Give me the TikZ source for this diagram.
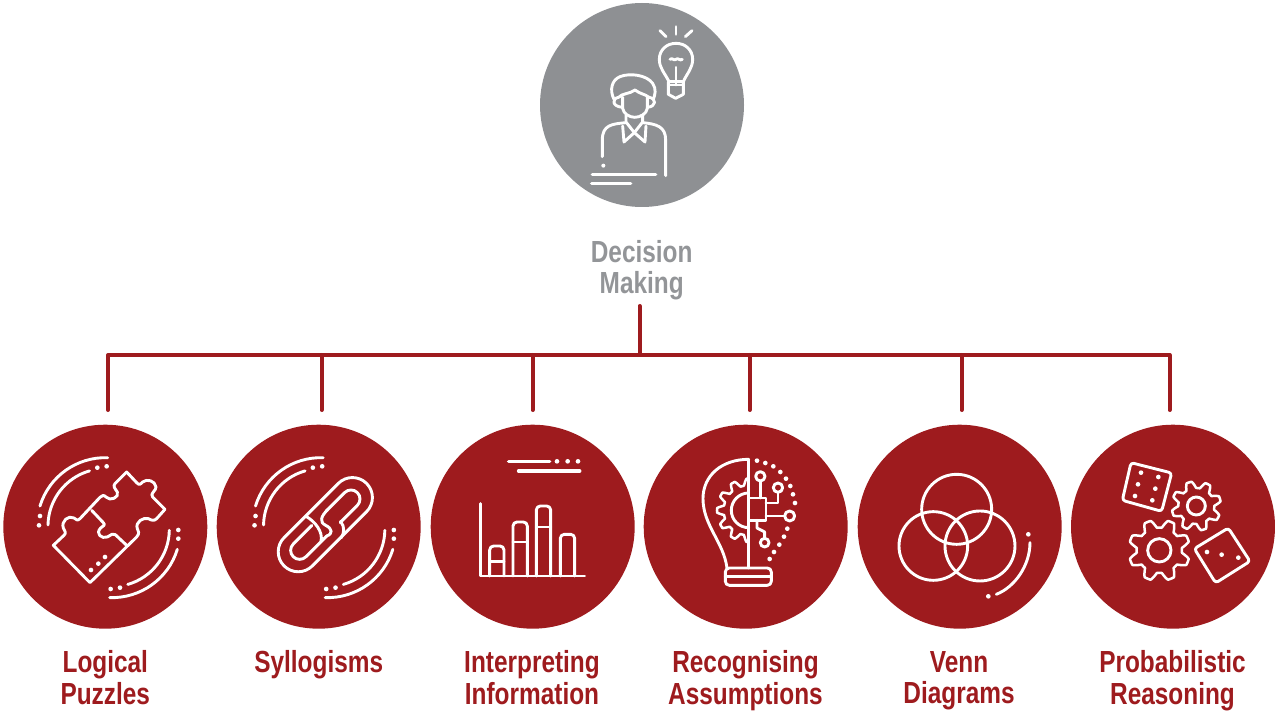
\documentclass[tikz,border=0pt]{standalone}
\usepackage{fontspec}
\setmainfont[FakeStretch=0.8]{Liberation Sans}
\definecolor{dred}{HTML}{9E1B1E}
\definecolor{dgray}{HTML}{8E9093}
\definecolor{lgray}{HTML}{939598}
\newcommand{\st}{\rule{0pt}{22pt}\rule[-8pt]{0pt}{8pt}}
\tikzset{
  disc/.style={circle,minimum size=204pt,inner sep=0pt,outer sep=0pt,draw=none},
  lab/.style={font=\fontsize{30.5}{31.7}\selectfont\bfseries,align=center,inner sep=0pt,text=dred,anchor=north},
  conn/.style={draw=dred,line width=4pt,line cap=round,line join=round},
  ico/.style={draw=white,line width=2.9pt,line cap=round,line join=round,fill=none},
  thin ico/.style={ico,line width=2.5pt},
  dotw/.style={fill=white,draw=none}
}
\newcommand{\wdots}[1]{\foreach \p in {#1}{\fill[dotw] \p circle[radius=7];}}
\newcommand{\gearcirc}[6]{% cx cy rootR tipR n rot
  \draw[thin ico,variable=\t,samples=361,domain=0:360] plot ({#1+((#3+#4)/2+(#4-#3)/2*max(-1,min(1,1.5*cos(#5*(\t-#6)))))*cos(\t)},{#2+((#3+#4)/2+(#4-#3)/2*max(-1,min(1,1.5*cos(#5*(\t-#6)))))*sin(\t)}) -- cycle;}
\newcommand{\swoosh}{%
  \draw[ico] (316,312) ++(-88:205) arc[start angle=-88,end angle=-163,radius=205];
  \draw[ico] (316,312) ++(-106:172) arc[start angle=-106,end angle=-179,radius=172];
  \draw[ico] (336,322) ++(92:205) arc[start angle=92,end angle=17,radius=205];
  \draw[ico] (336,322) ++(74:172) arc[start angle=74,end angle=1,radius=172];
  \wdots{(292,137),(320,133),(120,282),(117,310),(360,497),(332,501),(535,350),(535,324)}
}
\begin{document}
\begin{tikzpicture}[x=1pt,y=-1pt]
\useasboundingbox (0,0) rectangle (1275,711);
% discs
\node[disc,fill=dgray] (top) at (642,105) {};
\node[disc,fill=dred] (c1) at (105.3,526.7) {};
\node[disc,fill=dred] (c2) at (318.7,526.7) {};
\node[disc,fill=dred] (c3) at (532.7,526.7) {};
\node[disc,fill=dred] (c4) at (745.7,526.7) {};
\node[disc,fill=dred] (c5) at (959.7,526.7) {};
\node[disc,fill=dred] (c6) at (1173,526.7) {};
% labels
\node[lab,text=lgray] (ltop) at (641.7,240) {\st Decision\\\st Making};
\node[lab] (l1) at (105.3,650) {\st Logical\\\st Puzzles};
\node[lab] (l2) at (318.7,650) {\st Syllogisms};
\node[lab] (l3) at (532,650) {\st Interpreting\\\st Information};
\node[lab] (l4) at (745.5,650) {\st Recognising\\\st Assumptions};
\node[lab] (l5) at (959,650) {\st Venn\\\st Diagrams};
\node[lab] (l6) at (1172.5,650) {\st Probabilistic\\\st Reasoning};
% connectors
\coordinate (stem) at (639.5,306);
\coordinate (hub) at (639.5,355);
\coordinate (d1) at (108,355); \coordinate (e1) at (108,410);
\coordinate (d2) at (321.5,355); \coordinate (e2) at (321.5,410);
\coordinate (d3) at (532.5,355); \coordinate (e3) at (532.5,410);
\coordinate (d4) at (749.5,355); \coordinate (e4) at (749.5,410);
\coordinate (d5) at (961.5,355); \coordinate (e5) at (961.5,410);
\coordinate (d6) at (1169.5,355); \coordinate (e6) at (1169.5,410);
\draw[conn] (stem) -- (hub);
\draw[conn] (e1) -- (d1) -- (d6) -- (e6);
\draw[conn] (d2) -- (e2);
\draw[conn] (d3) -- (e3);
\draw[conn] (d4) -- (e4);
\draw[conn] (d5) -- (e5);
% person + bulb
\begin{scope}[shift={(540,0)},x=.3333pt,y=-.3333pt]
  \draw[ico] (222,298) .. controls (208,270) and (215,240) .. (240,230) .. controls (270,218) and (320,225) .. (338,250) .. controls (350,268) and (345,285) .. (340,298);
  \draw[ico] (236,292) .. controls (245,280) and (270,282) .. (285,270) .. controls (300,282) and (315,282) .. (327,292);
  \draw[ico] (248,292) -- (248,325) .. controls (250,342) and (270,352) .. (284,352) .. controls (300,352) and (320,342) .. (322,325) -- (322,292);
  \draw[ico] (236,292) .. controls (215,295) and (215,320) .. (248,322);
  \draw[ico] (327,292) .. controls (350,295) and (350,320) .. (322,322);
  \draw[ico] (258,345) -- (258,366) -- (283,398) -- (308,366) -- (308,345);
  \draw[ico] (248,378) -- (252,426) -- (283,398) -- (315,426) -- (318,378);
  \draw[ico] (258,368) .. controls (215,372) and (187,375) .. (187,420) -- (187,470);
  \draw[ico] (308,368) .. controls (350,372) and (377,380) .. (377,420) -- (377,527);
  \fill[dotw] (190,497) circle[radius=6];
  \draw[ico,line width=3.4pt] (157,523) -- (347,523);
  \draw[ico,line width=3.4pt] (155,550) -- (272,550);
  \draw[ico] (387,245) .. controls (375,220) and (358,205) .. (358,178) .. controls (358,150) and (380,130) .. (408,130) .. controls (436,130) and (458,150) .. (458,178) .. controls (458,205) and (441,220) .. (430,245);
  \draw[ico] (385,245) -- (385,283) -- (407,295) -- (430,283) -- (430,245) -- cycle;
  \draw[ico] (385,255) -- (430,255);
  \draw[ico] (408,202) -- (408,255);
  \draw[ico] (390,178) .. controls (398,172) and (402,184) .. (408,178) .. controls (414,172) and (420,184) .. (427,178);
  \draw[ico] (408,80) -- (408,103);
  \draw[ico] (360,92) -- (378,110);
  \draw[ico] (456,92) -- (436,110);
\end{scope}
% puzzle
\begin{scope}[shift={(0,422)},x=.3333pt,y=-.3333pt]
  \swoosh
  \draw[ico] (160,370) -- (270,482) -- (410,345) .. controls (420,335) and (415,325) .. (412,320) .. controls (405,300) and (430,285) .. (445,290) .. controls (455,295) and (462,298) .. (470,290) -- (495,262) -- (458,225) .. controls (448,215) and (470,205) .. (468,195) .. controls (465,175) and (440,170) .. (428,180) .. controls (420,188) and (418,190) .. (410,182) -- (380,150) -- (345,185) .. controls (338,192) and (345,200) .. (352,210) .. controls (360,225) and (330,240) .. (318,225) .. controls (312,218) and (305,220) .. (300,226) -- (240,290) .. controls (232,298) and (228,292) .. (222,288) .. controls (205,278) and (183,298) .. (190,318) .. controls (195,330) and (200,332) .. (192,340) -- cycle;
  \draw[ico] (275,265) -- (310,302) .. controls (318,310) and (308,312) .. (302,318) .. controls (285,335) and (305,352) .. (322,345) .. controls (335,338) and (340,332) .. (346,338) -- (380,370);
  \wdots{(273,444),(295,425),(315,405)}
\end{scope}
% chain
\begin{scope}[shift={(215,422)},x=.3333pt,y=-.3333pt]
  \begin{scope}[shift={(1.6,0)}]\swoosh\end{scope}
  \begin{scope}[shift={(331,308)},rotate=45]
    \draw[ico,rounded corners=20pt] (-175,-60) rectangle (175,60);
    \draw[ico,rounded corners=9pt] (30,-27) -- (136,-27) -- (136,27) -- (36,27);
    \draw[ico,rounded corners=9pt] (-30,-27) -- (-136,-27) -- (-136,27) -- (-22,27);
  \end{scope}
  \draw[ico] (338,263) .. controls (318,283) and (312,300) .. (332,310) .. controls (352,320) and (355,335) .. (335,342);
  \draw[ico] (273,283) .. controls (300,298) and (325,330) .. (318,358);
  \draw[ico] (377,298) .. controls (390,315) and (388,335) .. (378,348);
\end{scope}
% chart
\begin{scope}[shift={(428,422)},x=.3333pt,y=-.3333pt]
  \draw[ico] (158,245) -- (158,462) -- (470,462);
  \draw[ico,rounded corners=4pt] (185,462) -- (185,372) -- (228,372) -- (228,462);
  \draw[ico] (185,418) -- (228,418);
  \draw[ico,rounded corners=4pt] (255,462) -- (255,300) -- (298,300) -- (298,462);
  \draw[ico] (255,360) -- (298,360);
  \draw[ico,rounded corners=4pt] (325,462) -- (325,252) -- (368,252) -- (368,462);
  \draw[ico] (325,315) -- (368,315);
  \draw[ico,rounded corners=4pt] (397,462) -- (397,337) -- (440,337) -- (440,462);
  \draw[ico,line width=3.6pt] (242,118) -- (365,118);
  \draw[ico,line width=3.6pt] (272,147) -- (455,147);
  \wdots{(387,118),(419,118),(450,118)}
\end{scope}
% bulb
\begin{scope}[shift={(642,422)},x=.3333pt,y=-.3333pt]
  \draw[ico] (320,112) .. controls (240,112) and (183,160) .. (183,230) .. controls (183,310) and (245,360) .. (255,438);
  \draw[ico] (320,112) -- (320,438);
  \draw[ico,rounded corners=4pt] (250,438) rectangle (388,490);
  \draw[ico] (250,464) -- (388,464);
  \draw[ico] (320,213) arc[start angle=-90,end angle=-270,radius=52];
  \draw[thin ico,variable=\t,samples=181,domain=90:270] plot ({320+(85+10*max(-1,min(1,1.5*cos(12*\t))))*cos(\t)},{265+(85+10*max(-1,min(1,1.5*cos(12*\t))))*sin(\t)});
  \draw[ico] (320,228) rectangle (372,295);
  \draw[ico] (355,163) circle[radius=14];
  \draw[ico] (355,177) -- (355,228);
  \draw[ico] (408,197) circle[radius=14];
  \draw[ico] (408,211) -- (408,243) -- (372,243);
  \draw[ico] (443,282) circle[radius=15];
  \draw[ico] (428,282) -- (372,282);
  \draw[ico] (368,362) circle[radius=13];
  \draw[ico] (368,349) -- (368,330) -- (345,318) -- (345,295);
  \wdots{(345,116),(370,123),(394,133),(415,150),(432,170),(445,192),(453,217),(459,243),(436,320),(426,344),(412,368),(396,390),(383,411)}
\end{scope}
% venn
\begin{scope}[shift={(855,422)},x=.3333pt,y=-.3333pt]
  \draw[ico] (305,262) circle[radius=105];
  \draw[ico] (235,372) circle[radius=103];
  \draw[ico] (375,372) circle[radius=105];
  \draw[ico] (525,362) .. controls (525,430) and (480,495) .. (424,517);
  \wdots{(520,337),(400,523)}
\end{scope}
% dice + gears
\begin{scope}[shift={(1065,422)},x=.3333pt,y=-.3333pt]
  \draw[ico,rounded corners=3pt] (198,122) -- (320,153) -- (290,268) -- (172,235) -- cycle;
  \draw[ico,rounded corners=3pt] (490,318) -- (555,418) -- (452,483) -- (388,380) -- cycle;
  \wdots{(228,152),(280,165),(219,187),(271,200),(210,222),(262,235),(426,390),(470,398),(520,407)}
  \gearcirc{394}{252}{54}{74}{8}{28}
  \draw[ico] (394,252) circle[radius=27];
  \gearcirc{283}{385}{68}{92}{8}{22.5}
  \draw[ico] (283,385) circle[radius=35];
\end{scope}
\end{tikzpicture}
\end{document}
